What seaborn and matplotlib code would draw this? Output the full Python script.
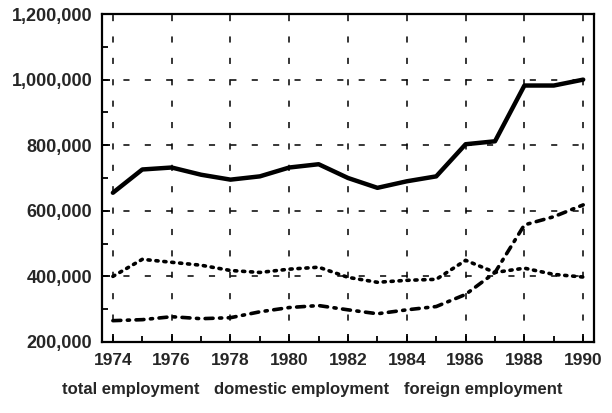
import numpy as np
import pandas as pd
import seaborn as sns
import matplotlib.pyplot as plt
from matplotlib.ticker import MultipleLocator, FuncFormatter

years = list(range(1974, 1991))
total = [655000, 726000, 732000, 710000, 695000, 705000, 732000, 742000, 700000,
         670000, 690000, 705000, 803000, 812000, 982000, 982000, 1000000]
domestic = [400000, 452000, 443000, 434000, 418000, 412000, 422000, 428000, 397000,
            382000, 388000, 391000, 449000, 412000, 425000, 406000, 398000]
foreign = [265000, 268000, 277000, 271000, 274000, 292000, 305000, 311000, 298000,
           286000, 298000, 308000, 345000, 412000, 557000, 582000, 618000]
labels = ["total employment", "domestic employment", "foreign employment"]

df = pd.DataFrame({"year": years, labels[0]: total, labels[1]: domestic, labels[2]: foreign})

sns.set_style("ticks")
plt.rcParams["font.family"] = ["Liberation Sans", "DejaVu Sans"]
plt.rcParams["font.weight"] = "bold"

fig = plt.figure(figsize=(6.12, 4.13), dpi=100)
ax = fig.add_axes([0.1667, 0.172, 0.804, 0.794])

styles = {
    labels[0]: dict(linestyle="-", linewidth=3.2),
    labels[1]: dict(linestyle=(0, (0.6, 1.6)), linewidth=2.6),
    labels[2]: dict(linestyle=(0, (2.2, 1.8, 0.6, 1.8)), linewidth=2.6),
}
for name in labels:
    sns.lineplot(data=df, x="year", y=name, ax=ax, color="black", label=name,
                 solid_capstyle="round", dash_capstyle="round", **styles[name])

ax.set_xlim(1973.63, 1990.37)
ax.set_ylim(200000, 1200000)
ax.xaxis.set_major_locator(MultipleLocator(2))
ax.xaxis.set_minor_locator(MultipleLocator(1))
ax.yaxis.set_major_locator(MultipleLocator(200000))
ax.yaxis.set_minor_locator(MultipleLocator(100000))
ax.yaxis.set_major_formatter(FuncFormatter(lambda v, p: f"{int(v):,}"))
ax.tick_params(which="both", direction="in", width=1.3, color="black")
ax.tick_params(which="major", length=6)
ax.tick_params(which="minor", length=4)
ax.tick_params(axis="y", labelsize=13, pad=7)
ax.tick_params(axis="x", labelsize=12.5, pad=8)
for t in ax.get_xticklabels() + ax.get_yticklabels():
    t.set_fontweight("bold")

ax.grid(True, which="major", color="black", linestyle=(0, (4, 10)), linewidth=1.1)
for s in ax.spines.values():
    s.set_linewidth(1.6)
    s.set_color("black")
ax.set_xlabel("")
ax.set_ylabel("")

handles, lbls = ax.get_legend_handles_labels()
ax.get_legend().remove()
leg = fig.legend(handles, lbls, loc="center", bbox_to_anchor=(0.51, 0.058), ncol=3,
                 frameon=False, handlelength=0, handletextpad=0, columnspacing=0.9,
                 prop={"weight": "bold", "size": 12})
for h in leg.legend_handles:
    h.set_visible(False)

fig.savefig("out.png", dpi=100)
